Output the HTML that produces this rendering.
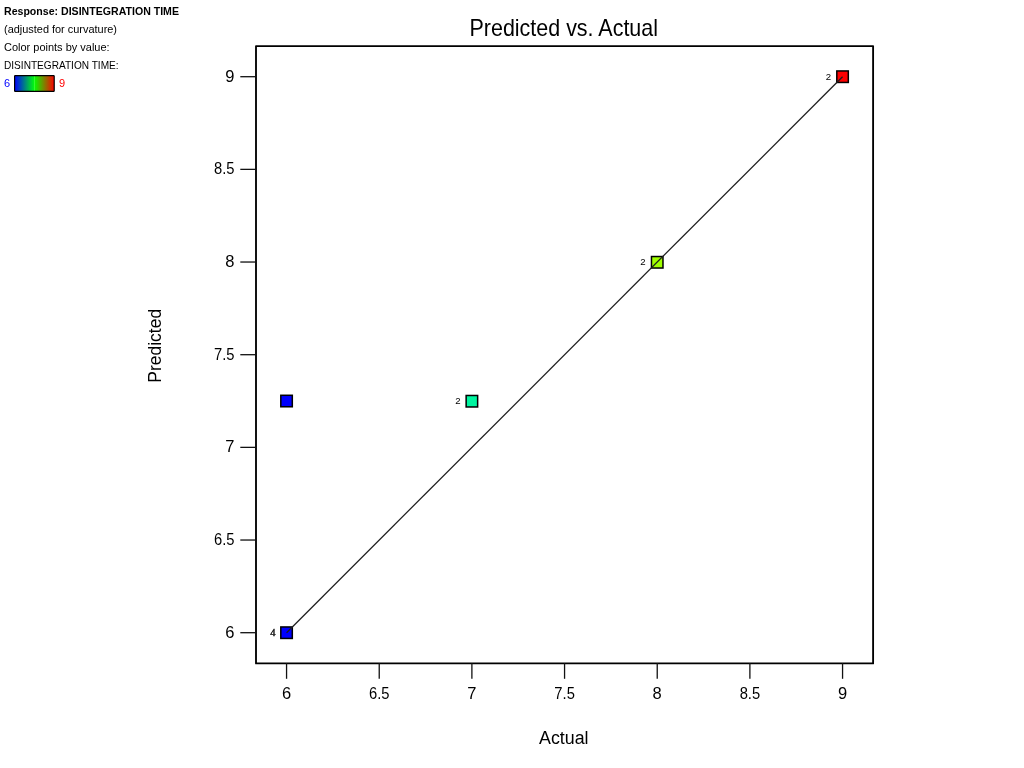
<!DOCTYPE html>
<html><head><meta charset="utf-8">
<style>
html,body{margin:0;padding:0;background:#fff;width:1024px;height:768px;overflow:hidden;}
body{position:relative;font-family:"Liberation Sans",sans-serif;}
svg{position:absolute;left:0;top:0;will-change:transform;}
</style></head><body>
<svg width="1024" height="768" viewBox="0 0 1024 768">
<defs>
<linearGradient id="g" x1="0" x2="1" y1="0" y2="0">
<stop offset="0" stop-color="#0000ff"/>
<stop offset="0.49" stop-color="#00f810"/>
<stop offset="0.5" stop-color="#40ff40"/>
<stop offset="0.51" stop-color="#08f800"/>
<stop offset="1" stop-color="#ff0000"/>
</linearGradient>
</defs>
<rect width="1024" height="768" fill="#fff"/>

<g font-family="Liberation Sans" font-size="11" fill="#000">
<text x="4" y="15" font-weight="bold" textLength="175" lengthAdjust="spacingAndGlyphs">Response: DISINTEGRATION TIME</text>
<text x="4" y="33" textLength="113" lengthAdjust="spacingAndGlyphs">(adjusted for curvature)</text>
<text x="4" y="51" textLength="105.6" lengthAdjust="spacingAndGlyphs">Color points by value:</text>
<text x="4" y="69" textLength="114.6" lengthAdjust="spacingAndGlyphs">DISINTEGRATION TIME:</text>
<text x="4" y="87" fill="#0000ff">6</text>
<text x="59" y="87" fill="#ff0000">9</text>
</g>
<rect x="14.6" y="75.6" width="39.6" height="15.8" rx="0.6" fill="url(#g)" stroke="#000" stroke-width="1.2"/>
<path d="M256,46.1 H873.1 V663.4 H256 Z" fill="none" stroke="#000" stroke-width="1.85" stroke-linejoin="round"/>
<g stroke="#111" stroke-width="1.3">
<line x1="240.3" x2="256" y1="632.70" y2="632.70"/>
<line x1="240.3" x2="256" y1="540.03" y2="540.03"/>
<line x1="240.3" x2="256" y1="447.37" y2="447.37"/>
<line x1="240.3" x2="256" y1="354.70" y2="354.70"/>
<line x1="240.3" x2="256" y1="262.03" y2="262.03"/>
<line x1="240.3" x2="256" y1="169.37" y2="169.37"/>
<line x1="240.3" x2="256" y1="76.70" y2="76.70"/>
<line y1="663" y2="678.8" x1="286.56" x2="286.56"/>
<line y1="663" y2="678.8" x1="379.23" x2="379.23"/>
<line y1="663" y2="678.8" x1="471.89" x2="471.89"/>
<line y1="663" y2="678.8" x1="564.56" x2="564.56"/>
<line y1="663" y2="678.8" x1="657.23" x2="657.23"/>
<line y1="663" y2="678.8" x1="749.89" x2="749.89"/>
<line y1="663" y2="678.8" x1="842.56" x2="842.56"/>
</g>
<g font-family="Liberation Sans" font-size="16.5" fill="#000">
<text x="234.5" y="637.5" text-anchor="end">6</text>
<text x="234.5" y="544.8" text-anchor="end" textLength="20.5" lengthAdjust="spacingAndGlyphs">6.5</text>
<text x="234.5" y="452.2" text-anchor="end">7</text>
<text x="234.5" y="359.5" text-anchor="end" textLength="20.5" lengthAdjust="spacingAndGlyphs">7.5</text>
<text x="234.5" y="266.8" text-anchor="end">8</text>
<text x="234.5" y="174.2" text-anchor="end" textLength="20.5" lengthAdjust="spacingAndGlyphs">8.5</text>
<text x="234.5" y="81.5" text-anchor="end">9</text>
<text x="286.6" y="699" text-anchor="middle">6</text>
<text x="379.2" y="699" text-anchor="middle" textLength="20.5" lengthAdjust="spacingAndGlyphs">6.5</text>
<text x="471.9" y="699" text-anchor="middle">7</text>
<text x="564.6" y="699" text-anchor="middle" textLength="20.5" lengthAdjust="spacingAndGlyphs">7.5</text>
<text x="657.2" y="699" text-anchor="middle">8</text>
<text x="749.9" y="699" text-anchor="middle" textLength="20.5" lengthAdjust="spacingAndGlyphs">8.5</text>
<text x="842.6" y="699" text-anchor="middle">9</text>
</g>
<g stroke="#000" stroke-width="1.5">
<rect x="280.81" y="395.28" width="11.5" height="11.5" fill="#0000ff"/>
<rect x="466.14" y="395.48" width="11.5" height="11.5" fill="#00f5a0"/>
<rect x="651.48" y="256.53" width="11.5" height="11.5" fill="#a0ff00"/>
<rect x="836.81" y="70.95" width="11.5" height="11.5" fill="#ff0000"/>
<rect x="280.81" y="626.95" width="11.5" height="11.5" fill="#0000ff"/>
</g>
<line x1="286.56" y1="632.70" x2="842.56" y2="76.70" stroke="#1c1c1c" stroke-width="1.25"/>
<g font-family="Liberation Sans" font-size="9.6" fill="#000">
<text x="460.5" y="404.3" text-anchor="end">2</text>
<text x="645.5" y="264.6" text-anchor="end">2</text>
<text x="831" y="80" text-anchor="end">2</text>
<text x="275.5" y="636" text-anchor="end" font-family="Liberation Serif" font-size="10.5" stroke="#000" stroke-width="0.35">4</text>
</g>
<text font-family="Liberation Sans" font-size="23.8" x="469.5" y="36" textLength="188.5" lengthAdjust="spacingAndGlyphs">Predicted vs. Actual</text>
<text font-family="Liberation Sans" font-size="18" x="539" y="744" textLength="49.5" lengthAdjust="spacingAndGlyphs">Actual</text>
<text font-family="Liberation Sans" font-size="18" transform="translate(161,382.8) rotate(-90)" x="0" y="0" textLength="74" lengthAdjust="spacingAndGlyphs">Predicted</text>
</svg>
</body></html>
